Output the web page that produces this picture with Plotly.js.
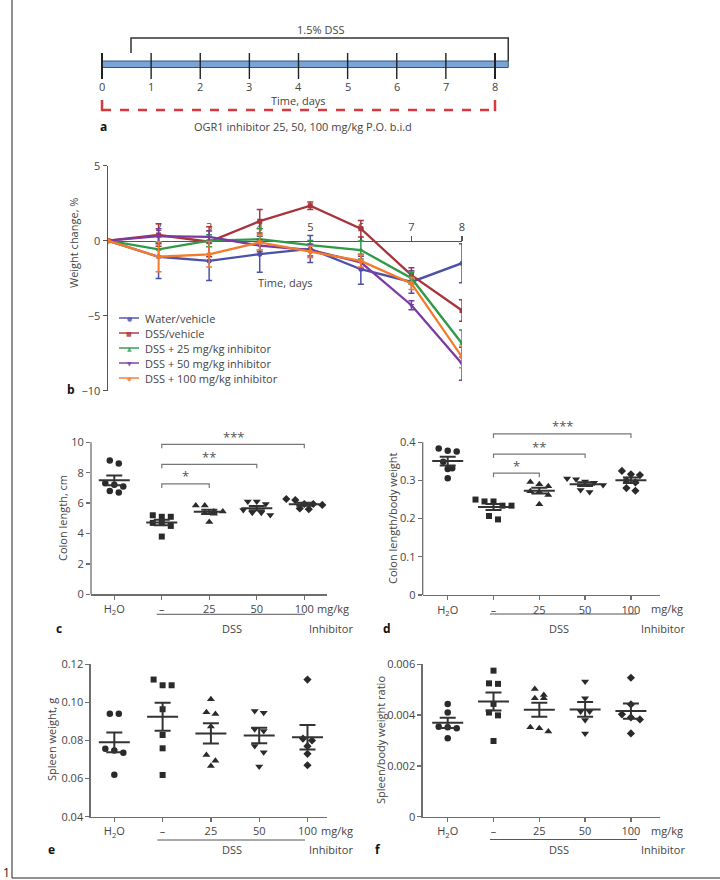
<!DOCTYPE html>
<html><head><meta charset="utf-8">
<script src="https://cdn.plot.ly/plotly-3.0.1.min.js"></script>
<style>html,body{margin:0;padding:0;background:#fff}#chart{width:720px;height:880px}</style>
</head><body><div id="chart"></div>
<script>
// ---------- Panel a: treatment schedule ----------
const timelineDays = [0, 1, 2, 3, 4, 5, 6, 7, 8];
const dssStartDay = 0.59;
const dssEndDay = 8.27;
const dssLabel = '1.5% DSS';
const inhibitorLabel = 'OGR1 inhibitor 25, 50, 100 mg/kg P.O. b.i.d';

// ---------- Panel b: weight change ----------
const weightDays = [1, 2, 3, 4, 5, 6, 7, 8];
const weightTickDays = [2, 3, 4, 5, 6, 7, 8];
const seriesNames = ['Water/vehicle', 'DSS/vehicle', 'DSS + 25 mg/kg inhibitor', 'DSS + 50 mg/kg inhibitor', 'DSS + 100 mg/kg inhibitor'];
const waterVehicle    = [0, -1.07, -1.35, -0.90, -0.55, -1.90, -2.75, -1.50];
const waterVehicleSem = [0, 1.45, 1.30, 1.20, 0.90, 1.00, 0.75, 1.30];
const dssVehicle      = [0, 0.38, -0.07, 1.30, 2.33, 0.80, -2.30, -4.65];
const dssVehicleSem   = [0, 0.75, 1.00, 0.78, 0.25, 0.55, 0.50, 0.72];
const dss25           = [0, -0.58, 0.00, 0.10, -0.29, -0.62, -2.50, -6.85];
const dss25Sem        = [0, 0.45, 0.40, 0.70, 0.30, 0.60, 0.40, 0.90];
const dss50           = [0, 0.30, 0.25, -0.33, -0.62, -1.44, -4.30, -8.20];
const dss50Sem        = [0, 0.50, 0.40, 0.40, 0.40, 0.40, 0.30, 1.10];
const dss100          = [0, -1.07, -0.91, -0.11, -0.73, -1.35, -2.85, -7.75];
const dss100Sem       = [0, 1.00, 0.85, 0.50, 0.40, 0.40, 0.40, 0.72];

// ---------- Panels c-f: group scatter ----------
const groupLabels = ['H<sub>2</sub>O', '–', '25', '50', '100'];
const colonLengthH2O = [8.6, 8.8, 6.7, 6.8, 7.1, 7.3, 7.2];
const colonLengthDSS = [5.1, 5.2, 5.1, 4.7, 4.7, 4.5, 3.8];
const colonLength25  = [5.85, 5.85, 5.45, 5.45, 5.35, 5.3, 4.75];
const colonLength50  = [6.1, 6.1, 5.94, 5.55, 5.37, 5.37, 5.22];
const colonLength100 = [6.2, 6.27, 5.88, 5.94, 5.94, 5.6, 5.65];

const colonRatioH2O = [0.376, 0.384, 0.378, 0.349, 0.332, 0.330, 0.306];
const colonRatioDSS = [0.250, 0.245, 0.245, 0.234, 0.234, 0.198, 0.207];
const colonRatio25  = [0.296, 0.285, 0.290, 0.272, 0.270, 0.262, 0.238];
const colonRatio50  = [0.305, 0.303, 0.297, 0.294, 0.288, 0.275, 0.270];
const colonRatio100 = [0.325, 0.316, 0.314, 0.300, 0.295, 0.280, 0.273];

const spleenH2O = [0.094, 0.094, 0.0757, 0.0748, 0.0736, 0.062];
const spleenDSS = [0.109, 0.112, 0.109, 0.0964, 0.0829, 0.0759, 0.0619];
const spleen25  = [0.1016, 0.0939, 0.0948, 0.0873, 0.0724, 0.0694, 0.0666];
const spleen50  = [0.0955, 0.0946, 0.0859, 0.0850, 0.0771, 0.0738, 0.0663];
const spleen100 = [0.112, 0.081, 0.080, 0.077, 0.073, 0.067];

const spleenRatioH2O = [0.00444, 0.00410, 0.00354, 0.00352, 0.00348, 0.00309];
const spleenRatioDSS = [0.00575, 0.00523, 0.00525, 0.00444, 0.00410, 0.00399, 0.00298];
const spleenRatio25  = [0.00503, 0.00466, 0.00479, 0.00466, 0.00335, 0.00352, 0.00348];
const spleenRatio50  = [0.00532, 0.00466, 0.00414, 0.00414, 0.00381, 0.00328];
const spleenRatio100 = [0.00547, 0.00442, 0.00391, 0.00403, 0.00383, 0.00328];

const colonLengthSig = [[1, 4, 9.87, '***'], [1, 3, 8.55, '**'], [1, 2, 7.26, '*']];
const colonRatioSig  = [[1, 4, 0.4218, '***'], [1, 3, 0.369, '**'], [1, 2, 0.319, '*']];

// ---------- helpers ----------
const W = 720, H = 880;
const P = px => px / W;
const Q = py => 1 - py / H;
const FONT = 'Open Sans, Noto Sans, DejaVu Sans, sans-serif';
const TXT = '#444';
const AX = '#6e6e6e';

const seriesColors = ['#4b50a8', '#a8343c', '#2e9a48', '#7b3aa3', '#f27c2c'];
const seriesSymbols = ['circle', 'square', 'triangle-up', 'triangle-down', 'diamond'];
const legendGlyphs = ['●', '■', '▲', '▼', '◆'];
const groupSymbols = ['circle', 'square', 'triangle-up', 'triangle-down', 'diamond'];
const groupSizes = [6.5, 6, 7, 7, 6.3];

function meanSem(v) {
  const n = v.length;
  const m = v.reduce((a, b) => a + b, 0) / n;
  const sd = Math.sqrt(v.reduce((a, b) => a + (b - m) * (b - m), 0) / (n - 1));
  return [m, sd / Math.sqrt(n)];
}
function swarm(values, center, pxX, pxY, dot) {
  const idx = values.map((v, i) => i).sort((a, b) => values[b] - values[a]);
  const rows = [];
  idx.forEach(i => {
    const last = rows[rows.length - 1];
    if (last && Math.abs(values[last[0]] - values[i]) * pxY < dot - 2) last.push(i);
    else rows.push([i]);
  });
  const xs = new Array(values.length);
  rows.forEach(r => r.forEach((i, k) => { xs[i] = center + (k - (r.length - 1) / 2) * dot / pxX; }));
  return xs;
}

const tickFont = {family: FONT, size: 11, color: TXT};
function axis(extra) {
  return Object.assign({showgrid: false, zeroline: false, showline: true, linecolor: AX, linewidth: 1.3,
    ticks: 'outside', ticklen: 4, tickwidth: 1.3, tickcolor: AX, tickfont: tickFont, fixedrange: true}, extra);
}

const layout = {
  width: W, height: H, margin: {l: 0, r: 0, t: 0, b: 0},
  paper_bgcolor: '#fff', plot_bgcolor: 'rgba(0,0,0,0)', showlegend: false,
  font: {family: FONT, size: 11, color: TXT},
  // panel b
  xaxis: axis({domain: [P(108), P(462)], range: [1, 8], anchor: 'free', position: Q(240.7), side: 'top',
    tickvals: weightTickDays, ticklen: 5, linecolor: '#555', tickcolor: '#555', linewidth: 1.5, layer: 'below traces'}),
  yaxis: axis({domain: [Q(390.7), Q(165.7)], range: [-10, 5], anchor: 'x', tickvals: [-10, -5, 0, 5],
    linecolor: '#555', tickcolor: '#555', linewidth: 1.5}),
  // panel c
  xaxis2: axis({domain: [P(91), P(327)], range: [-0.49, 4.478], anchor: 'y2', tickvals: [0, 1, 2, 3, 4], ticktext: groupLabels}),
  yaxis2: axis({domain: [Q(594.3), Q(433.2)], range: [0, 10.6], anchor: 'x2', showline: false, tickvals: [0, 2, 4, 6, 8, 10]}),
  // panel d
  xaxis3: axis({domain: [P(422.7), P(660)], range: [-0.546, 4.635], anchor: 'y3', tickvals: [0, 1, 2, 3, 4], ticktext: groupLabels}),
  yaxis3: axis({domain: [Q(595), Q(423.2)], range: [0, 0.45], anchor: 'x3', showline: false,
    tickvals: [0, 0.1, 0.2, 0.3, 0.4], ticktext: ['0', '0.1', '0.2', '0.3', '0.4']}),
  // panel e
  xaxis4: axis({domain: [P(90.7), P(327)], range: [-0.489, 4.404], anchor: 'y4', tickvals: [0, 1, 2, 3, 4], ticktext: groupLabels}),
  yaxis4: axis({domain: [Q(816.7), Q(664.3)], range: [0.04, 0.12], anchor: 'x4',
    tickvals: [0.04, 0.06, 0.08, 0.10, 0.12], ticktext: ['0.04', '0.06', '0.08', '0.10', '0.12']}),
  // panel f
  xaxis6: axis({domain: [P(422.7), P(660)], range: [-0.546, 4.635], anchor: 'y6', tickvals: [0, 1, 2, 3, 4], ticktext: groupLabels}),
  yaxis6: axis({domain: [Q(816.7), Q(664.3)], range: [0, 0.006], anchor: 'x6',
    tickvals: [0, 0.002, 0.004, 0.006], ticktext: ['0', '0.002', '0.004', '0.006']}),
  // panel a (schematic)
  xaxis5: {domain: [P(92), P(520)], range: [-0.2036, 8.509], anchor: 'y5', visible: false, fixedrange: true},
  yaxis5: {domain: [Q(120), Q(20)], range: [120, 20], anchor: 'x5', visible: false, fixedrange: true},
  shapes: [], annotations: []
};

const traces = [];

// ---------- panel b traces ----------
const seriesVals = [waterVehicle, dssVehicle, dss25, dss50, dss100];
const seriesSems = [waterVehicleSem, dssVehicleSem, dss25Sem, dss50Sem, dss100Sem];
seriesVals.forEach((vals, i) => {
  traces.push({type: 'scatter', mode: 'lines+markers', name: seriesNames[i], x: weightDays, y: vals,
    xaxis: 'x', yaxis: 'y', showlegend: false, hoverinfo: 'skip',
    line: {color: seriesColors[i], width: 2.3},
    marker: {symbol: seriesSymbols[i], size: 5, color: seriesColors[i]},
    error_y: {type: 'data', array: seriesSems[i], visible: true, color: seriesColors[i], thickness: 1.5, width: 3}});
});
// manual legend
seriesNames.forEach((name, i) => {
  const y = 318 + i * 15;
  layout.shapes.push({type: 'line', xref: 'paper', yref: 'paper', x0: P(119), x1: P(139), y0: Q(y), y1: Q(y),
    line: {color: seriesColors[i], width: 2}, opacity: 0.7});
  layout.annotations.push({xref: 'paper', yref: 'paper', x: P(129), y: Q(y), text: legendGlyphs[i], showarrow: false,
    xanchor: 'center', yanchor: 'middle', font: {family: 'DejaVu Sans', size: 6, color: seriesColors[i]}, opacity: 0.8});
  layout.annotations.push({xref: 'paper', yref: 'paper', x: P(143), y: Q(y), text: name, showarrow: false,
    xanchor: 'left', yanchor: 'middle', font: {family: FONT, size: 11, color: TXT}});
});

// ---------- panels c-f ----------
function buildPanel(groups, xa, ya, xl, yl) {
  const pxX = (xl.domain[1] - xl.domain[0]) * W / (xl.range[1] - xl.range[0]);
  const pxY = (yl.domain[1] - yl.domain[0]) * H / Math.abs(yl.range[1] - yl.range[0]);
  const lx = [], ly = [];
  groups.forEach((vals, g) => {
    const xs = swarm(vals, g, pxX, pxY, 9);
    traces.push({type: 'scatter', mode: 'markers', x: xs, y: vals, xaxis: xa, yaxis: ya, showlegend: false,
      hoverinfo: 'skip', cliponaxis: false,
      marker: {symbol: groupSymbols[g], size: groupSizes[g], color: '#2a2a2a'}});
    const [m, s] = meanSem(vals);
    const hw = 15.5 / pxX, ww = 8 / pxX;
    lx.push(g - hw, g + hw, null, g - ww, g + ww, null, g - ww, g + ww, null, g, g, null);
    ly.push(m, m, null, m + s, m + s, null, m - s, m - s, null, m - s, m + s, null);
  });
  traces.push({type: 'scatter', mode: 'lines', x: lx, y: ly, xaxis: xa, yaxis: ya, showlegend: false,
    hoverinfo: 'skip', line: {color: '#333', width: 2}});
  return pxY;
}
const pyC = buildPanel([colonLengthH2O, colonLengthDSS, colonLength25, colonLength50, colonLength100], 'x2', 'y2', layout.xaxis2, layout.yaxis2);
const pyD = buildPanel([colonRatioH2O, colonRatioDSS, colonRatio25, colonRatio50, colonRatio100], 'x3', 'y3', layout.xaxis3, layout.yaxis3);
buildPanel([spleenH2O, spleenDSS, spleen25, spleen50, spleen100], 'x4', 'y4', layout.xaxis4, layout.yaxis4);
buildPanel([spleenRatioH2O, spleenRatioDSS, spleenRatio25, spleenRatio50, spleenRatio100], 'x6', 'y6', layout.xaxis6, layout.yaxis6);

// y axis lines for c and d (axis stops at top tick)
layout.shapes.push({type: 'line', xref: 'paper', yref: 'y2', x0: P(91), x1: P(91), y0: 0, y1: 10, line: {color: AX, width: 1.3}});
layout.shapes.push({type: 'line', xref: 'paper', yref: 'y3', x0: P(422.7), x1: P(422.7), y0: 0, y1: 0.4, line: {color: AX, width: 1.3}});

// significance brackets
function brackets(list, xa, ya, pxY) {
  const drop = 4 / pxY, up = 7.5 / pxY;
  list.forEach(([a, b, y, t]) => {
    layout.shapes.push({type: 'path', xref: xa, yref: ya,
      path: `M ${a},${y - drop} L ${a},${y} L ${b},${y} L ${b},${y - drop}`, line: {color: '#777', width: 1.2}});
    layout.annotations.push({xref: xa, yref: ya, x: (a + b) / 2, y: y + up, text: t, showarrow: false,
      xanchor: 'center', yanchor: 'middle', font: {family: FONT, size: 13, color: '#555'}});
  });
}
brackets(colonLengthSig, 'x2', 'y2', pyC);
brackets(colonRatioSig, 'x3', 'y3', pyD);

// ---------- panel a schematic ----------
layout.shapes.push({type: 'rect', xref: 'x5', yref: 'y5', x0: 0, x1: dssEndDay, y0: 61, y1: 67.5,
  fillcolor: '#78a4d8', line: {color: '#35557f', width: 1}});
timelineDays.forEach((d, i) => {
  const edge = (i === 0 || i === timelineDays.length - 1);
  layout.shapes.push({type: 'line', xref: 'x5', yref: 'y5', x0: d, x1: d, y0: 53, y1: 79,
    line: {color: '#222', width: edge ? 2 : 1.4}});
  layout.annotations.push({xref: 'x5', yref: 'y5', x: d, y: 87, text: String(d), showarrow: false,
    xanchor: 'center', yanchor: 'middle', font: {family: FONT, size: 11, color: TXT}});
});
layout.shapes.push({type: 'path', xref: 'x5', yref: 'y5',
  path: `M ${dssStartDay},53 L ${dssStartDay},38 L ${dssEndDay},38 L ${dssEndDay},61`, line: {color: '#333', width: 1.5}});
const firstDay = timelineDays[0], lastDay = timelineDays[timelineDays.length - 1];
layout.shapes.push({type: 'line', xref: 'x5', yref: 'y5', x0: firstDay, x1: lastDay, y0: 110, y1: 110,
  line: {color: '#d63a40', width: 2.5, dash: 'dash'}});
[firstDay, lastDay].forEach(d => layout.shapes.push({type: 'line', xref: 'x5', yref: 'y5', x0: d, x1: d, y0: 100, y1: 111.2,
  line: {color: '#d63a40', width: 2.5}}));
layout.annotations.push({xref: 'x5', yref: 'y5', x: 4, y: 101, text: 'Time, days', showarrow: false,
  font: {family: FONT, size: 11, color: TXT}});
layout.annotations.push({xref: 'paper', yref: 'paper', x: P(320), y: Q(29), text: dssLabel, showarrow: false,
  font: {family: FONT, size: 11, color: TXT}});
layout.annotations.push({xref: 'paper', yref: 'paper', x: P(303), y: Q(126), text: inhibitorLabel, showarrow: false,
  font: {family: FONT, size: 11, color: TXT}});

// ---------- texts ----------
function txt(x, y, t, opt) {
  layout.annotations.push(Object.assign({xref: 'paper', yref: 'paper', x: P(x), y: Q(y), text: t, showarrow: false,
    xanchor: 'center', yanchor: 'middle', font: {family: FONT, size: 11, color: TXT}}, opt || {}));
}
const bold = {font: {family: FONT, size: 12, color: '#111', weight: 700}};
txt(103, 126, '<b>a</b>', bold);
txt(71, 390, '<b>b</b>', bold);
txt(59, 628, '<b>c</b>', bold);
txt(387, 628, '<b>d</b>', bold);
txt(52, 849, '<b>e</b>', bold);
txt(378, 849, '<b>f</b>', bold);
txt(1.5, 872, '1', {xanchor: 'left', borderpad: 0, font: {family: FONT, size: 12, color: '#111'}});

txt(285, 283, 'Time, days');
txt(73, 243, 'Weight change, %', {textangle: -90});
txt(62, 518, 'Colon length, cm', {textangle: -90});
txt(392, 518, 'Colon length/body weight', {textangle: -90});
txt(51, 740, 'Spleen weight, g', {textangle: -90});
txt(380, 740, 'Spleen/body weight ratio', {textangle: -90});

// DSS / inhibitor labels under c-f: [lineY, mgY, dssY, lineX0, lineX1, dssX, mgX, inhibitorX]
[[614.3, 608, 628.3, 156.7, 305, 231.7, 333, 331], [614, 608, 628, 490, 637, 559, 667, 663],
 [840, 830, 849.3, 157.3, 305, 231.7, 337, 331], [839.5, 830, 849, 490, 637, 559, 667, 663]].forEach(r => {
  const [ly, my, dy, x0, x1, dx, mx, ix] = r;
  layout.shapes.push({type: 'line', xref: 'paper', yref: 'paper', x0: P(x0), x1: P(x1), y0: Q(ly), y1: Q(ly),
    line: {color: '#555', width: 1}});
  txt(dx, dy, 'DSS');
  txt(mx, my, 'mg/kg');
  txt(ix, dy, 'Inhibitor');
});

// figure frame
layout.shapes.push({type: 'line', xref: 'paper', yref: 'paper', x0: P(12), x1: P(12), y0: Q(0), y1: Q(878), line: {color: '#222', width: 1}});
layout.shapes.push({type: 'line', xref: 'paper', yref: 'paper', x0: P(12), x1: P(720), y0: Q(878), y1: Q(878), line: {color: '#222', width: 1}});

layout.annotations.forEach(a => { if (!a.yanchor) a.yanchor = 'middle'; if (!a.xanchor) a.xanchor = 'center'; });

Plotly.newPlot('chart', traces, layout, {staticPlot: true, displayModeBar: false});
</script>
</body></html>
